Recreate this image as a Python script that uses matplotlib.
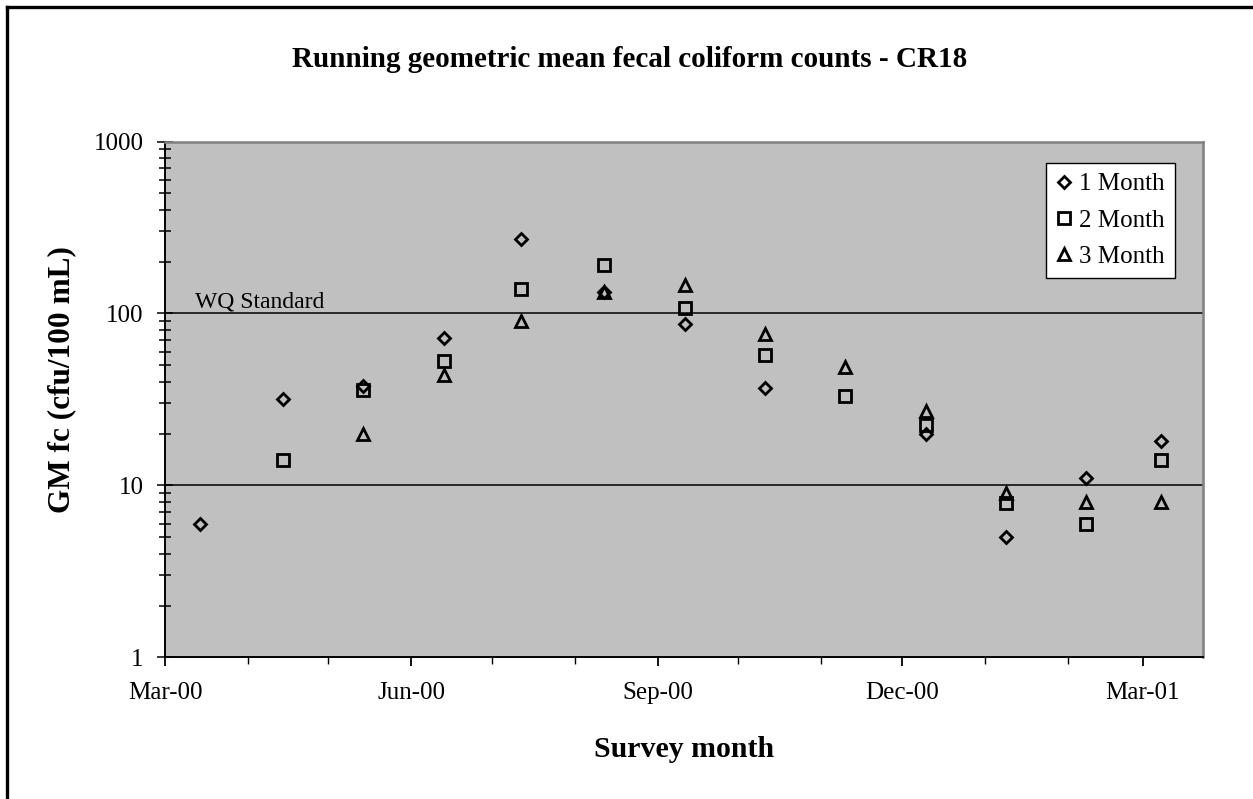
import numpy as np
import matplotlib
matplotlib.use("Agg")
import matplotlib.pyplot as plt
import matplotlib.dates as mdates
from matplotlib.lines import Line2D
from matplotlib.ticker import LogLocator, FixedLocator, NullFormatter

# --- Data ---
survey_dates = ["2000-03-14", "2000-04-14", "2000-05-14", "2000-06-13", "2000-07-12",
                "2000-08-12", "2000-09-11", "2000-10-11", "2000-11-10", "2000-12-10",
                "2001-01-09", "2001-02-08", "2001-03-08"]
gm_1month = [6, 32, 38, 72, 270, 134, 87, 37, np.nan, 20, 5, 11, 18]
gm_2month = [np.nan, 14, 36, 53, 138, 191, 108, 57, 33, 22.4, 7.9, 6, 14]
gm_3month = [np.nan, np.nan, 20, 44, 90, 134, 146, 75.5, 48.5, 27, 9, 8, 8]
wq_standard = 100

series_labels = ["1 Month", "2 Month", "3 Month"]

# --- Plot ---
W, H = 1253, 799
fig = plt.figure(figsize=(W / 100, H / 100), dpi=100)
serif = "Liberation Serif"
plt.rcParams['font.family'] = serif

ax = fig.add_axes([165 / W, 1 - 657.3 / H, (1203 - 165) / W, (657.3 - 141.5) / H])
ax.set_facecolor("#c0c0c0")

dates = np.array(survey_dates, dtype="datetime64[D]").astype("O")
x = mdates.date2num(dates)

mk = dict(linestyle="none", mfc="none", mec="black", mew=2.0)
ax.plot(x, gm_1month, marker="D", ms=6.4, label=series_labels[0], **mk)
ax.plot(x, gm_2month, marker="s", ms=8.5, label=series_labels[1], **mk)
ax.plot(x, gm_3month, marker="^", ms=8.5, label=series_labels[2], **mk)

ax.set_yscale("log")
ax.set_ylim(1, 1000)
x0 = mdates.date2num(np.datetime64("2000-03-01").astype("O"))
ax.set_xlim(x0, x0 + 387.5)

# gridlines at 10 and 100
for v in [10, 100]:
    ax.axhline(v, color="black", lw=1.1, zorder=1)

ax.annotate("WQ Standard", xy=(0.029, wq_standard), xycoords=("axes fraction", "data"),
            xytext=(0, 4), textcoords="offset points", va="baseline", ha="left",
            fontsize=17, family=serif)

# y ticks
ax.yaxis.set_major_locator(FixedLocator([1, 10, 100, 1000]))
ax.yaxis.set_minor_locator(LogLocator(base=10, subs=np.arange(2, 10)))
ax.yaxis.set_minor_formatter(NullFormatter())
ax.set_yticklabels(["1", "10", "100", "1000"])
ax.tick_params(axis="y", which="major", direction="inout", length=11, width=1.1, pad=10, labelsize=18)
ax.tick_params(axis="y", which="minor", direction="inout", length=8, width=1.1)

# x ticks
ax.xaxis.set_major_locator(mdates.MonthLocator(bymonth=[3, 6, 9, 12]))
ax.xaxis.set_minor_locator(mdates.MonthLocator())
ax.xaxis.set_major_formatter(mdates.DateFormatter("%b-%y"))
ax.tick_params(axis="x", which="major", direction="out", length=6.5, width=1.3, pad=11, labelsize=18)
ax.tick_params(axis="x", which="minor", direction="out", length=5, width=1.0)

for s in ["left", "bottom"]:
    ax.spines[s].set_color("black")
    ax.spines[s].set_linewidth(1.4)
for s in ["top", "right"]:
    ax.spines[s].set_color("#808080")
    ax.spines[s].set_linewidth(1.8)

leg = ax.legend(loc="upper right", bbox_to_anchor=(1175 / W, 1 - 163 / H),
                bbox_transform=fig.transFigure, borderaxespad=0, fontsize=18,
                frameon=True, fancybox=False, framealpha=1, edgecolor="black",
                handlelength=0.7, handletextpad=0.25, labelspacing=0.55,
                borderpad=0.4, markerscale=1.0)
leg.get_frame().set_linewidth(1.0)

# titles
fig.text(630 / W, 1 - 66.7 / H, "Running geometric mean fecal coliform counts - CR18",
         ha="center", va="baseline", fontsize=21, fontweight="bold", family=serif)
fig.text(684 / W, 1 - 757 / H, "Survey month", ha="center", va="baseline",
         fontsize=21.5, fontweight="bold", family=serif)
fig.text(62 / W, 1 - 380 / H, "GM fc (cfu/100 mL)", ha="center", va="center",
         rotation=90, fontsize=22.5, fontweight="bold", family=serif)

# chart border (left and top edges visible)
fig.add_artist(Line2D([6.7 / W, 6.7 / W], [0, 1 - 6.7 / H], transform=fig.transFigure,
                      color="black", lw=2.4, solid_capstyle="projecting"))
fig.add_artist(Line2D([6.7 / W, 1], [1 - 6.7 / H, 1 - 6.7 / H], transform=fig.transFigure,
                      color="black", lw=2.4, solid_capstyle="projecting"))

fig.savefig("out.png", dpi=100)
